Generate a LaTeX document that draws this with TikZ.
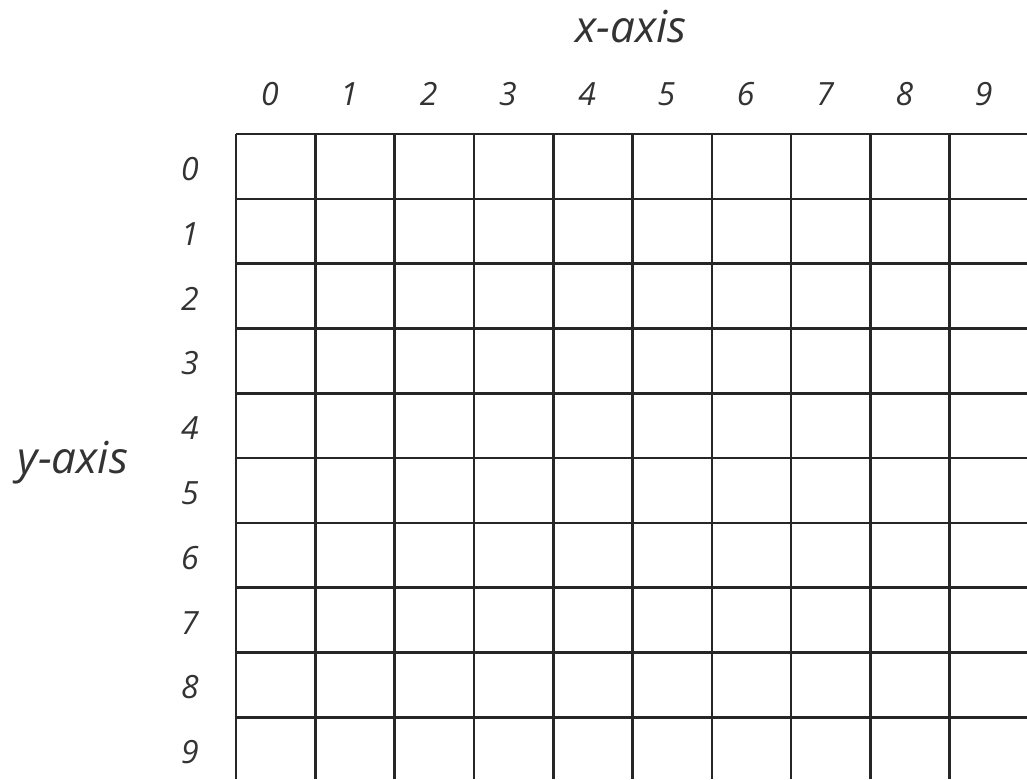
\documentclass[tikz,border=0pt]{standalone}
\usepackage{fontspec}
\setmainfont{Open Sans}
\begin{document}
\begin{tikzpicture}[x=1pt,y=-1pt,
  gridline/.style={line width=2.6pt,color=black!85},
  digit/.style={font=\fontsize{32}{32}\selectfont\itshape,text=black!80,inner sep=0pt},
  axislabel/.style={font=\fontsize{44}{44}\selectfont\itshape,text=black!80,inner sep=0pt}]
\useasboundingbox (0,0) rectangle (1027,779);
% grid
\foreach \i in {0,...,9} {
  \draw[gridline] ({236+79.3*\i},134) -- ({236+79.3*\i},779);
  \draw[gridline] (236,{134+64.8*\i}) -- (1027,{134+64.8*\i});
}
% axis numbers
\foreach \i in {0,...,9} {
  \node[digit] (xl\i) at ({270+79.3*\i},94) {\i};
  \node[digit] (yl\i) at (190,{169+64.8*\i}) {\i};
}
\node[axislabel] (xaxis) at (631,27) {x-axis};
\node[axislabel] (yaxis) at (73,463) {y-axis};
\end{tikzpicture}
\end{document}
